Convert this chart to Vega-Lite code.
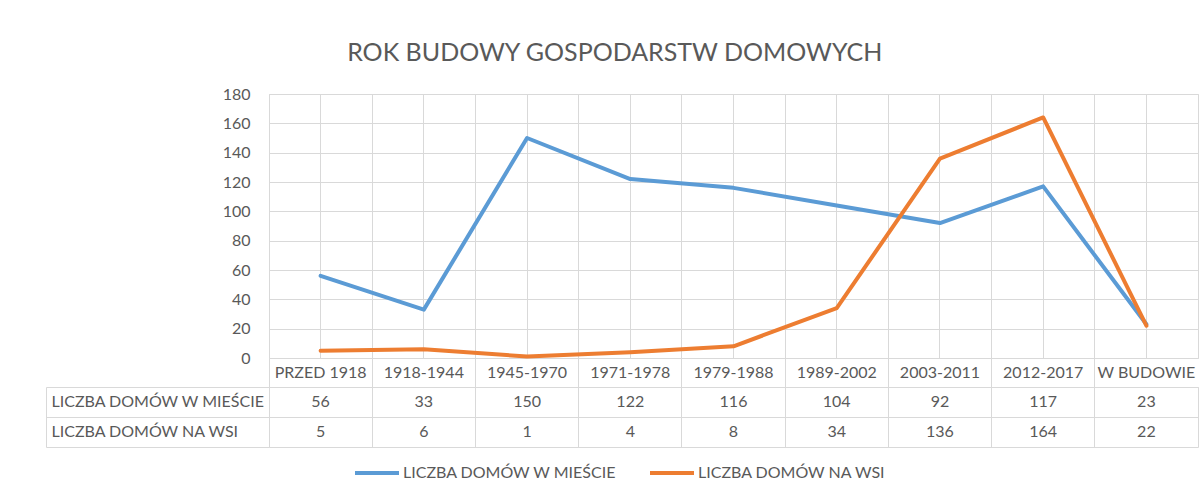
{
  "$schema": "https://vega.github.io/schema/vega-lite/v6.json",
  "padding": {"left": 45, "top": 40, "right": 6, "bottom": 0},
  "background": "white",
  "title": {"text": "ROK BUDOWY GOSPODARSTW DOMOWYCH", "anchor": "middle", "frame": "bounds", "dx": -7, "offset": 20, "fontSize": 25, "font": "Lato", "fontWeight": "normal", "color": "#595959"},
  "datasets": {
    "d": [
      {"cat": "PRZED 1918", "series": "LICZBA DOMÓW W MIEŚCIE", "value": 56},
      {"cat": "1918-1944", "series": "LICZBA DOMÓW W MIEŚCIE", "value": 33},
      {"cat": "1945-1970", "series": "LICZBA DOMÓW W MIEŚCIE", "value": 150},
      {"cat": "1971-1978", "series": "LICZBA DOMÓW W MIEŚCIE", "value": 122},
      {"cat": "1979-1988", "series": "LICZBA DOMÓW W MIEŚCIE", "value": 116},
      {"cat": "1989-2002", "series": "LICZBA DOMÓW W MIEŚCIE", "value": 104},
      {"cat": "2003-2011", "series": "LICZBA DOMÓW W MIEŚCIE", "value": 92},
      {"cat": "2012-2017", "series": "LICZBA DOMÓW W MIEŚCIE", "value": 117},
      {"cat": "W BUDOWIE", "series": "LICZBA DOMÓW W MIEŚCIE", "value": 23},
      {"cat": "PRZED 1918", "series": "LICZBA DOMÓW NA WSI", "value": 5},
      {"cat": "1918-1944", "series": "LICZBA DOMÓW NA WSI", "value": 6},
      {"cat": "1945-1970", "series": "LICZBA DOMÓW NA WSI", "value": 1},
      {"cat": "1971-1978", "series": "LICZBA DOMÓW NA WSI", "value": 4},
      {"cat": "1979-1988", "series": "LICZBA DOMÓW NA WSI", "value": 8},
      {"cat": "1989-2002", "series": "LICZBA DOMÓW NA WSI", "value": 34},
      {"cat": "2003-2011", "series": "LICZBA DOMÓW NA WSI", "value": 136},
      {"cat": "2012-2017", "series": "LICZBA DOMÓW NA WSI", "value": 164},
      {"cat": "W BUDOWIE", "series": "LICZBA DOMÓW NA WSI", "value": 22}
    ]
  },
  "data": {"name": "d"},
  "spacing": 29,
  "bounds": "flush",
  "vconcat": [
    {
      "width": 929,
      "height": 264,
      "layer": [
        {
          "mark": {"type": "line", "strokeWidth": 4, "strokeCap": "round", "strokeJoin": "round"},
          "encoding": {
            "x": {"field": "cat", "type": "nominal", "bandPosition": 0.5,
              "sort": ["PRZED 1918", "1918-1944", "1945-1970", "1971-1978", "1979-1988", "1989-2002", "2003-2011", "2012-2017", "W BUDOWIE"],
              "scale": {"type": "band", "paddingInner": 0, "paddingOuter": 0},
              "axis": {"orient": "bottom", "title": null, "labelAngle": 0, "ticks": false, "tickSize": 0, "domain": false, "grid": true, "bandPosition": 0.5, "labelPadding": 14, "labelBaseline": "middle"}},
            "y": {"field": "value", "type": "quantitative", "scale": {"domain": [0, 180], "nice": false},
              "axis": {"title": null, "values": [0, 20, 40, 60, 80, 100, 120, 140, 160, 180], "ticks": false, "tickSize": 0, "domain": false, "labelPadding": 19, "grid": true}},
            "color": {"field": "series", "type": "nominal",
              "scale": {"domain": ["LICZBA DOMÓW W MIEŚCIE", "LICZBA DOMÓW NA WSI"], "range": ["#5b9bd5", "#ed7d31"]},
              "legend": {"orient": "none", "legendX": 84, "legendY": 355, "direction": "horizontal", "columns": 2, "title": null, "symbolType": "stroke", "symbolSize": 1936, "symbolStrokeWidth": 4, "labelOffset": 2, "columnPadding": 25, "labelFont": "Lato", "labelFontSize": 16, "labelColor": "#595959", "labelLimit": 400}}
          }
        },
        {
          "mark": {"type": "point", "opacity": 0},
          "encoding": {
            "x": {"field": "cat", "type": "nominal",
              "sort": ["PRZED 1918", "1918-1944", "1945-1970", "1971-1978", "1979-1988", "1989-2002", "2003-2011", "2012-2017", "W BUDOWIE"],
              "scale": {"type": "band", "paddingInner": 0, "paddingOuter": 0},
              "axis": {"orient": "bottom", "title": null, "labels": false, "ticks": true, "tickSize": 29, "domain": false, "grid": true, "bandPosition": 0}}
          }
        }
      ],
      "resolve": {"axis": {"x": "independent"}}
    },
    {
      "width": 929,
      "height": 60,
      "layer": [
        {
          "mark": {"type": "text", "fontSize": 16, "color": "#595959", "font": "Lato"},
          "encoding": {
            "x": {"field": "cat", "type": "nominal", "bandPosition": 0.5,
              "sort": ["PRZED 1918", "1918-1944", "1945-1970", "1971-1978", "1979-1988", "1989-2002", "2003-2011", "2012-2017", "W BUDOWIE"],
              "scale": {"type": "band", "paddingInner": 0, "paddingOuter": 0},
              "axis": {"orient": "top", "title": null, "labels": false, "ticks": false, "domain": false, "grid": true, "bandPosition": 0}},
            "y": {"field": "series", "type": "nominal", "bandPosition": 0.5,
              "sort": ["LICZBA DOMÓW W MIEŚCIE", "LICZBA DOMÓW NA WSI"],
              "scale": {"type": "band", "paddingInner": 0, "paddingOuter": 0},
              "axis": {"orient": "left", "title": null, "labels": false, "ticks": false, "domain": false, "grid": true, "bandPosition": 0}},
            "text": {"field": "value", "type": "quantitative"}
          }
        },
        {
          "mark": {"type": "text", "opacity": 0},
          "encoding": {
            "x": {"field": "cat", "type": "nominal", "sort": ["PRZED 1918", "1918-1944", "1945-1970", "1971-1978", "1979-1988", "1989-2002", "2003-2011", "2012-2017", "W BUDOWIE"], "scale": {"type": "band", "paddingInner": 0, "paddingOuter": 0}, "axis": null},
            "y": {"field": "series", "type": "nominal", "sort": ["LICZBA DOMÓW W MIEŚCIE", "LICZBA DOMÓW NA WSI"], "scale": {"type": "band", "paddingInner": 0, "paddingOuter": 0},
              "axis": {"orient": "left", "title": null, "labels": false, "ticks": true, "tickSize": 223, "domain": false, "grid": false, "bandPosition": 0}}
          }
        },
        {
          "mark": {"type": "text", "opacity": 0},
          "encoding": {
            "x": {"field": "cat", "type": "nominal", "sort": ["PRZED 1918", "1918-1944", "1945-1970", "1971-1978", "1979-1988", "1989-2002", "2003-2011", "2012-2017", "W BUDOWIE"], "scale": {"type": "band", "paddingInner": 0, "paddingOuter": 0}, "axis": null},
            "y": {"field": "series", "type": "nominal", "sort": ["LICZBA DOMÓW W MIEŚCIE", "LICZBA DOMÓW NA WSI"], "scale": {"type": "band", "paddingInner": 0, "paddingOuter": 0},
              "axis": {"orient": "left", "title": null, "labels": false, "ticks": true, "tickSize": 223, "domain": false, "grid": false, "bandPosition": 1}}
          }
        },
        {
          "mark": {"type": "text", "opacity": 0},
          "encoding": {
            "x": {"field": "cat", "type": "nominal", "sort": ["PRZED 1918", "1918-1944", "1945-1970", "1971-1978", "1979-1988", "1989-2002", "2003-2011", "2012-2017", "W BUDOWIE"], "scale": {"type": "band", "paddingInner": 0, "paddingOuter": 0}, "axis": null},
            "y": {"field": "series", "type": "nominal", "sort": ["LICZBA DOMÓW W MIEŚCIE", "LICZBA DOMÓW NA WSI"], "scale": {"type": "band", "paddingInner": 0, "paddingOuter": 0},
              "axis": {"orient": "left", "offset": 223, "title": null, "labels": true, "labelAlign": "left", "labelPadding": -5, "labelLimit": 300, "ticks": false, "tickSize": 0, "domain": true, "grid": false, "bandPosition": 0.5}}
          }
        }
      ],
      "resolve": {"axis": {"x": "independent", "y": "independent"}}
    }
  ],
  "config": {
    "font": "Lato",
    "axis": {"labelFont": "Lato", "labelFontSize": 16, "labelColor": "#595959", "gridColor": "#d9d9d9", "domainColor": "#d9d9d9", "tickColor": "#d9d9d9", "gridWidth": 1, "domainWidth": 1, "tickWidth": 1},
    "view": {"stroke": "#d9d9d9"},
    "text": {"font": "Lato"}
  }
}
